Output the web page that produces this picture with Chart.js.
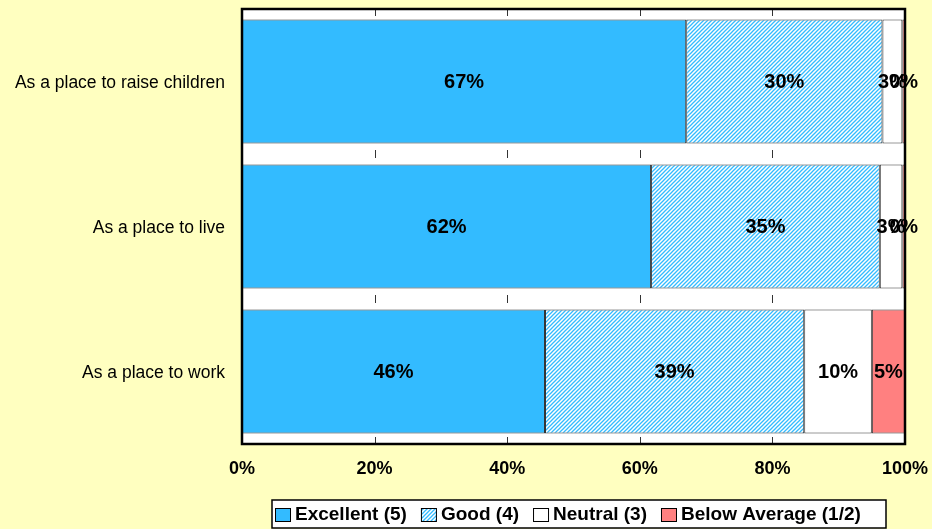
<!DOCTYPE html>
<html>
<head>
<meta charset="utf-8">
<script src="https://cdn.jsdelivr.net/npm/chart.js@4/dist/chart.umd.min.js"></script>
<style>
  html, body { margin: 0; padding: 0; background: #FFFFC0; }
  #wrap { width: 932px; height: 529px; }
</style>
</head>
<body>
<div id="wrap"><canvas id="chart" width="932" height="529"></canvas></div>
<script>
const categories = ['As a place to raise children', 'As a place to live', 'As a place to work'];
const excellent = [67.0, 61.7, 45.7];
const good = [29.6, 34.5, 39.1];
const neutral = [3.0, 3.4, 10.2];
const belowAverage = [0.4, 0.4, 5.0];
const tickLabels = ['0%', '20%', '40%', '60%', '80%', '100%'];

const BG = '#FFFFC0';
const BLUE = '#33BBFF';
const FONT = '"Liberation Sans", Arial, sans-serif';

// hatched fill for "Good"
function makeHatch() {
  const c = document.createElement('canvas');
  c.width = 4; c.height = 4;
  const g = c.getContext('2d');
  g.fillStyle = '#fff';
  g.fillRect(0, 0, 4, 4);
  g.strokeStyle = BLUE;
  g.lineWidth = 1.3;
  g.beginPath();
  g.moveTo(0, 4); g.lineTo(4, 0);
  g.moveTo(-1, 1); g.lineTo(1, -1);
  g.moveTo(3, 5); g.lineTo(5, 3);
  g.stroke();
  return g.createPattern(c, 'repeat');
}
const hatch = makeHatch();

const backdrop = {
  id: 'backdrop',
  beforeDraw(chart) {
    const ctx = chart.ctx;
    const a = chart.chartArea;
    ctx.save();
    ctx.fillStyle = BG;
    ctx.fillRect(0, 0, chart.width, chart.height);
    ctx.fillStyle = '#fff';
    ctx.fillRect(a.left, a.top, a.right - a.left, a.bottom - a.top);
    ctx.restore();
  }
};

const frame = {
  id: 'frame',
  afterDatasetsDraw(chart) {
    const ctx = chart.ctx;
    const a = chart.chartArea;
    const xs = chart.scales.x;
    ctx.save();
    // short tick marks at category boundaries
    ctx.strokeStyle = '#333';
    ctx.lineWidth = 1;
    const step = (a.bottom - a.top) / categories.length;
    for (let v = 20; v < 100; v += 20) {
      const x = Math.round(xs.getPixelForValue(v)) + 0.5;
      ctx.beginPath();
      ctx.moveTo(x, a.top); ctx.lineTo(x, a.top + 7);
      ctx.moveTo(x, a.bottom); ctx.lineTo(x, a.bottom - 7);
      for (let i = 1; i < categories.length; i++) {
        const y = a.top + step * i;
        ctx.moveTo(x, y - 4); ctx.lineTo(x, y + 4);
      }
      ctx.stroke();
    }
    // data labels
    ctx.fillStyle = '#000';
    ctx.font = 'bold 20px ' + FONT;
    ctx.textAlign = 'center';
    ctx.textBaseline = 'middle';
    chart.data.datasets.forEach((ds, di) => {
      const meta = chart.getDatasetMeta(di);
      meta.data.forEach((bar, i) => {
        const cx = (bar.x + bar.base) / 2;
        ctx.fillText(Math.round(ds.data[i]) + '%', cx, bar.y + 1);
      });
    });
    // plot frame
    ctx.strokeStyle = '#000';
    ctx.lineWidth = 2.5;
    ctx.strokeRect(a.left, a.top, a.right - a.left, a.bottom - a.top);
    ctx.restore();
  },
  afterDraw(chart) {
    // legend in a framed white box under the axis
    const ctx = chart.ctx;
    const a = chart.chartArea;
    const left = a.left + 30, top = 500, h = 28, w = 614;
    const cy = top + h / 2 + 1;
    ctx.save();
    ctx.font = 'bold 19px ' + FONT;
    ctx.textBaseline = 'middle';
    ctx.textAlign = 'left';
    const items = chart.data.datasets.map(ds => ({ text: ds.label, fill: ds.backgroundColor }));
    ctx.fillStyle = '#fff';
    ctx.fillRect(left, top, w, h);
    ctx.strokeStyle = '#000';
    ctx.lineWidth = 1.5;
    ctx.strokeRect(left, top, w, h);
    let x = left + 3;
    items.forEach(it => {
      ctx.fillStyle = it.fill;
      ctx.fillRect(x, cy - 7, 16, 14);
      ctx.strokeStyle = '#000';
      ctx.lineWidth = 1;
      ctx.strokeRect(x + 0.5, cy - 6.5, 15, 13);
      x += 20;
      ctx.fillStyle = '#000';
      ctx.fillText(it.text, x, cy);
      x += ctx.measureText(it.text).width + 14;
    });
    ctx.restore();
  }
};

const barStyle = { borderColor: '#333', borderWidth: 1, borderSkipped: false,
  categoryPercentage: 0.855, barPercentage: 1.0 };

new Chart(document.getElementById('chart'), {
  type: 'bar',
  data: {
    labels: categories,
    datasets: [
      { label: 'Excellent (5)', data: excellent, backgroundColor: BLUE, ...barStyle },
      { label: 'Good (4)', data: good, backgroundColor: hatch, ...barStyle },
      { label: 'Neutral (3)', data: neutral, backgroundColor: '#fff', ...barStyle },
      { label: 'Below Average (1/2)', data: belowAverage, backgroundColor: '#FF8080', ...barStyle }
    ]
  },
  options: {
    indexAxis: 'y',
    responsive: false,
    animation: false,
    layout: { padding: { top: 9, right: 27, left: 0, bottom: 1 } },
    scales: {
      x: {
        stacked: true,
        min: 0,
        max: 100,
        grid: { display: false, drawTicks: false },
        border: { display: false },
        afterFit(scale) {
          scale.height = 84;
          scale.paddingLeft = 0; scale.paddingRight = 0;
        },
        afterBuildTicks(scale) {
          scale.ticks = tickLabels.map((t, i) => ({ value: i * 20 }));
        },
        ticks: {
          padding: 14,
          color: '#000',
          maxRotation: 0,
          autoSkip: false,
          font: { family: FONT, size: 18, weight: 'bold' },
          callback: (v, i) => tickLabels[i]
        }
      },
      y: {
        stacked: true,
        grid: { display: false, drawTicks: false },
        border: { display: false },
        afterFit(scale) {
          scale.width = 242;
          scale.paddingTop = 0; scale.paddingBottom = 0;
        },
        ticks: {
          padding: 17,
          labelOffset: 2,
          color: '#000',
          font: { family: FONT, size: 17.5 }
        }
      }
    },
    plugins: {
      tooltip: { enabled: false },
      legend: { display: false }
    }
  },
  plugins: [backdrop, frame]
});
</script>
</body>
</html>
